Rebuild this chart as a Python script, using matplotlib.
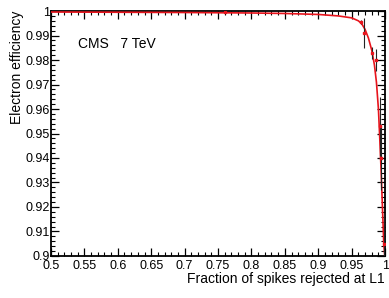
import matplotlib
matplotlib.use('Agg')
import matplotlib.pyplot as plt
from matplotlib.ticker import MultipleLocator

plt.rcParams['font.family'] = ['Liberation Sans', 'DejaVu Sans']

# efficiency vs spike rejection curve
curve_x = [0.5, 0.6, 0.7, 0.8, 0.85, 0.9, 0.93, 0.95, 0.96, 0.965, 0.97, 0.975,
           0.98, 0.984, 0.987, 0.99, 0.992, 0.994, 0.996, 0.998, 0.9995]
curve_y = [0.9996, 0.9995, 0.9994, 0.9992, 0.999, 0.9986, 0.998, 0.9972, 0.996,
           0.9948, 0.9925, 0.989, 0.984, 0.978, 0.971, 0.96, 0.948, 0.935,
           0.92, 0.905, 0.9]

# measured points
pts_x = [0.76, 0.964, 0.969, 0.981, 0.986, 0.9925, 0.9935, 0.998]
pts_y = [0.9998, 0.9955, 0.991, 0.983, 0.980, 0.953, 0.940, 0.905]
pts_err = [0.0002, 0.001, 0.006, 0.0025, 0.0045, 0.012, 0.013, 0.012]

fig = plt.figure(figsize=(3.89, 2.98), dpi=100)
ax = fig.add_axes([0.131, 0.141, 0.859, 0.822])

ax.plot(curve_x, curve_y, color='#e8141c', lw=1.2, zorder=3)
ax.errorbar(pts_x, pts_y, yerr=pts_err, fmt='s', ms=2, color='#e8141c',
            ecolor='#222222', elinewidth=0.8, capsize=0, zorder=4)

ax.set_xlim(0.5, 1.0)
ax.set_ylim(0.9, 1.0)
ax.xaxis.set_major_locator(MultipleLocator(0.05))
ax.xaxis.set_minor_locator(MultipleLocator(0.01))
ax.yaxis.set_major_locator(MultipleLocator(0.01))
ax.yaxis.set_minor_locator(MultipleLocator(0.002))

def fmt(v, pos):
    return ('%.2f' % v).rstrip('0').rstrip('.')
ax.xaxis.set_major_formatter(plt.FuncFormatter(fmt))
ax.yaxis.set_major_formatter(plt.FuncFormatter(fmt))

ax.tick_params(which='both', direction='in', top=True, right=True, labelsize=9)
ax.tick_params(axis='x', pad=3)
ax.tick_params(axis='y', pad=1)
ax.tick_params(which='major', length=6, width=0.9)
ax.tick_params(which='minor', length=3, width=0.8)
for s in ax.spines.values():
    s.set_linewidth(1.3)

ax.set_xlabel('Fraction of spikes rejected at L1', fontsize=10, loc='right', labelpad=0)
ax.set_ylabel('Electron efficiency', fontsize=10, loc='top', labelpad=1)
ax.text(0.08, 0.85, 'CMS   7 TeV', transform=ax.transAxes, fontsize=10)

fig.savefig('out.png', dpi=100)
